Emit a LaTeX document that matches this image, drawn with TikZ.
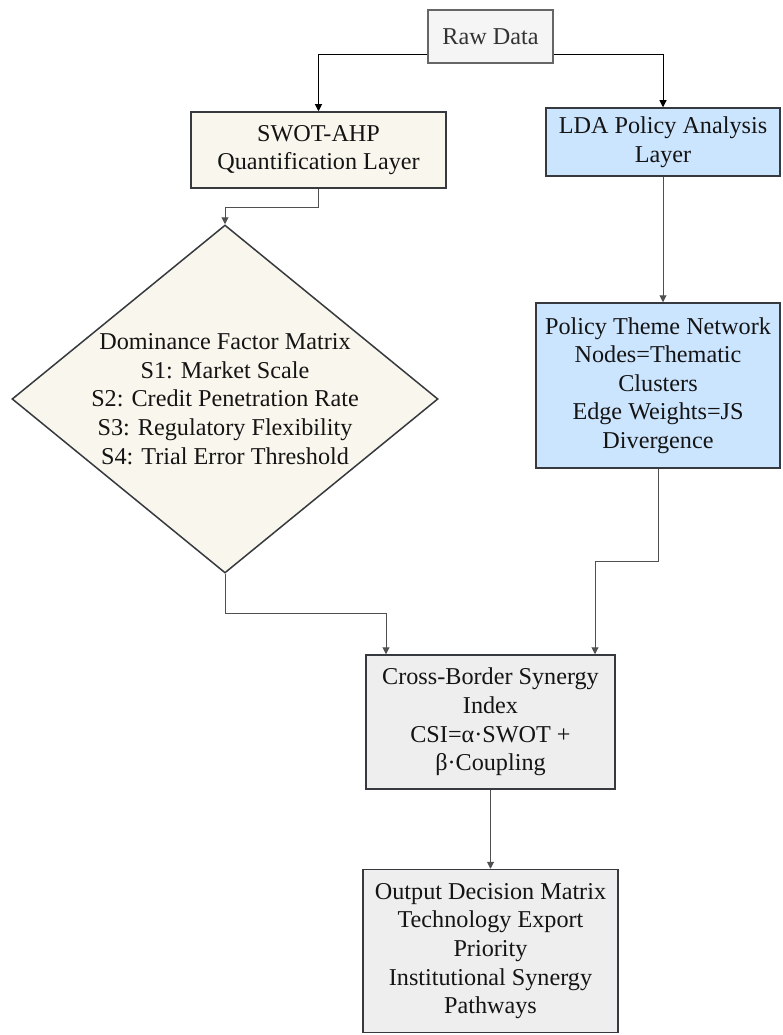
\documentclass[tikz,border=0pt]{standalone}
\usepackage{fontspec}
\setmainfont{Liberation Serif}
\usetikzlibrary{shapes.geometric,arrows.meta,calc}
\definecolor{rawfill}{HTML}{F5F5F5}
\definecolor{rawdraw}{HTML}{666666}
\definecolor{beige}{HTML}{F9F7ED}
\definecolor{bluef}{HTML}{CCE5FF}
\definecolor{grayf}{HTML}{EEEEEE}
\definecolor{bord}{HTML}{36393D}
\definecolor{edgec}{HTML}{505050}
\definecolor{txt}{HTML}{141414}
\definecolor{rawtxt}{HTML}{333333}
\begin{document}
\begin{tikzpicture}[x=1pt,y=-1pt,
  box/.style={draw=bord, line width=1.5pt, rectangle, inner sep=0pt, align=center, text=txt, font=\fontsize{24.2}{28.6}\selectfont},
  conn/.style={draw=edgec, line width=1pt, -{Triangle[width=7pt,length=7pt]}},
]
\useasboundingbox (0,0) rectangle (782,1035);
\fill[white] (0,0) rectangle (782,1035);
\node[box, fill=rawfill, draw=rawdraw, text=rawtxt, minimum width=125pt, minimum height=53pt] (raw) at (490.5,36.5) {Raw Data};
\node[box, fill=beige, minimum width=255pt, minimum height=76pt] (swot) at (318.5,150) {SWOT-AHP\\Quantification Layer};
\node[box, fill=bluef, minimum width=234pt, minimum height=68pt] (lda) at (663,142) {LDA Policy Analysis\\Layer};
\node[box, fill=bluef, minimum width=244pt, minimum height=165pt] (pol) at (658,385.5) {Policy Theme Network\\Nodes=Thematic\\Clusters\\Edge Weights=JS\\Divergence};
\node[box, shape=diamond, fill=beige, minimum width=426pt, minimum height=348pt] (dia) at (225,399) {};
\node[box, draw=none] (diatxt) at (dia.center) {Dominance Factor Matrix\\S1: Market Scale\\S2: Credit Penetration Rate\\S3: Regulatory Flexibility\\S4: Trial Error Threshold};
\node[box, fill=grayf, minimum width=249pt, minimum height=134pt] (csi) at (490.5,722) {Cross-Border Synergy\\Index\\CSI=α·SWOT +\\β·Coupling};
\node[box, fill=grayf, minimum width=255pt, minimum height=163pt] (out) at (490.5,951) {Output Decision Matrix\\Technology Export\\Priority\\Institutional Synergy\\Pathways};
\draw[conn, draw=black] ([yshift=-18.5pt]raw.west) -| (swot.north);
\draw[conn, draw=black] ([yshift=-18.5pt]raw.east) -| (lda.north);
\draw[conn] (swot.south) -- ++(0,19) -| (dia.north);
\draw[conn] (lda.south) -- (pol.north -| lda.south);
\draw[conn] (dia.south) -- ++(0,40) -| ([xshift=-104.5pt]csi.north);
\draw[conn] (pol.south) -- ++(0,93) -| ([xshift=104.5pt]csi.north);
\draw[conn] (csi.south) -- (out.north);
\end{tikzpicture}
\end{document}
